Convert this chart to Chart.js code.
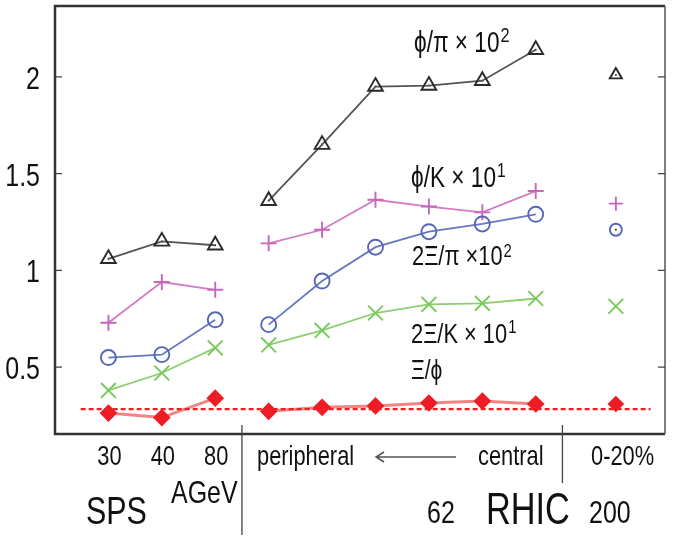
<!DOCTYPE html>
<html>
<head>
<meta charset="utf-8">
<script src="https://cdn.jsdelivr.net/npm/chart.js@4.4.0/dist/chart.umd.min.js"></script>
<style>
  html, body { margin: 0; padding: 0; background: #fff; }
  #wrap { width: 675px; height: 540px; }
</style>
</head>
<body>
<div id="wrap"><canvas id="ratios"></canvas></div>
<script>
// x slots: SPS 30/40/80 AGeV, RHIC 62 (peripheral -> central), RHIC 200 0-20%
const categories = ['30', '40', '80', '62 p1', '62 p2', '62 p3', '62 p4', '62 p5', '62 c', '200 0-20%'];
const xPos = [0, 1, 2, 3, 4, 5, 6, 7, 8, 9.5];

const phiPi  = [1.06, 1.15, 1.13, 1.36, 1.65, 1.95, 1.955, 1.98, 2.14, 2.01];
const phiK   = [0.73, 0.94, 0.90, 1.14, 1.21, 1.365, 1.33, 1.30, 1.41, 1.345];
const xiPi   = [0.55, 0.565, 0.745, 0.72, 0.945, 1.12, 1.20, 1.24, 1.29, 1.21];
const xiK    = [0.38, 0.47, 0.60, 0.615, 0.69, 0.78, 0.825, 0.83, 0.855, 0.815];
const xiPhi  = [0.263, 0.24, 0.34, 0.272, 0.293, 0.30, 0.315, 0.325, 0.31, 0.31];

const refLineX = [-0.52, 10.15];
const refLineY = [0.284, 0.284];

const yTicks = [0.5, 1, 1.5, 2];

// split into SPS / RHIC 62 / RHIC 200 pieces with gaps so they are not joined
function series(vals) {
  const pts = [];
  vals.forEach((v, i) => {
    pts.push({ x: xPos[i], y: v });
    if (i === 2) pts.push({ x: 2.5, y: null });
    if (i === 8) pts.push({ x: 8.75, y: null });
  });
  return pts;
}

const isLast = (c) => c.raw && c.raw.x === xPos[xPos.length - 1];

function lineSet(vals, color, lineColor, style, r, rLast, width, fill) {
  return {
    data: series(vals),
    borderColor: lineColor,
    borderWidth: width || 1.8,
    pointStyle: style,
    pointRadius: c => isLast(c) ? rLast : r,
    pointBorderColor: color,
    pointBackgroundColor: fill || 'rgba(0,0,0,0)',
    pointBorderWidth: 1.9,
    spanGaps: false,
    tension: 0
  };
}

const SX = 0.78;
const FONT = '"Liberation Sans", Arial, "DejaVu Sans", sans-serif';
function txt(ctx, s, x, y, size, align) {
  ctx.save();
  ctx.font = size + 'px ' + FONT;
  ctx.textBaseline = 'alphabetic';
  ctx.textAlign = align || 'left';
  ctx.translate(x, y);
  ctx.scale(SX, 1);
  ctx.fillText(s, 0, 0);
  const w = ctx.measureText(s).width * SX;
  ctx.restore();
  return w;
}
// label with a superscript right after it
function supLabel(ctx, s, sup, x, y, size, supSize, rise) {
  const w = txt(ctx, s, x, y, size);
  txt(ctx, sup, x + w + 1, y - rise, supSize);
}

const decor = {
  id: 'decor',
  afterDraw(chart) {
    const { ctx, chartArea: a, scales } = chart;
    const ys = scales.y, xs = scales.x;
    ctx.save();
    // frame
    ctx.strokeStyle = '#333';
    ctx.lineWidth = 2.5;
    ctx.beginPath();
    ctx.moveTo(a.right, a.top);
    ctx.lineTo(a.left, a.top);
    ctx.lineTo(a.left, a.bottom);
    ctx.lineTo(a.right, a.bottom);
    ctx.stroke();
    ctx.strokeStyle = '#555';
    ctx.lineWidth = 1.5;
    ctx.beginPath();
    ctx.moveTo(a.right, a.top);
    ctx.lineTo(a.right, a.bottom);
    ctx.stroke();
    // inward ticks and labels
    ctx.fillStyle = '#111';
    ctx.lineWidth = 1.2;
    ctx.strokeStyle = '#444';
    yTicks.forEach(v => {
      const py = ys.getPixelForValue(v);
      ctx.beginPath();
      ctx.moveTo(a.left, py); ctx.lineTo(a.left + 7, py);
      ctx.moveTo(a.right, py); ctx.lineTo(a.right - 7, py);
      ctx.stroke();
      txt(ctx, String(v), a.left - 15, py + 12, 32, 'right');
    });
    // separators
    ctx.strokeStyle = '#444';
    ctx.lineWidth = 1.3;
    const s1 = xs.getPixelForValue(2.5), s2 = xs.getPixelForValue(8.5);
    ctx.beginPath();
    ctx.moveTo(s1, a.bottom - 9); ctx.lineTo(s1, 535);
    ctx.moveTo(s2, a.bottom - 9); ctx.lineTo(s2, 483);
    ctx.stroke();
    // x labels
    ['30', '40', '80'].forEach((s, i) => txt(ctx, s, xs.getPixelForValue(xPos[i]) + 1, 465, 28, 'center'));
    txt(ctx, 'peripheral', 257, 465, 28);
    txt(ctx, 'central', 478, 465, 28);
    txt(ctx, '0-20%', 591, 465, 28);
    // arrow
    ctx.strokeStyle = '#555';
    ctx.lineWidth = 1.5;
    ctx.beginPath();
    ctx.moveTo(456, 457); ctx.lineTo(376, 457);
    ctx.moveTo(384, 452); ctx.lineTo(376, 457); ctx.lineTo(384, 462);
    ctx.stroke();
    txt(ctx, 'AGeV', 171, 503, 32);
    txt(ctx, 'SPS', 86, 524, 39);
    txt(ctx, '62', 427, 523, 32);
    txt(ctx, 'RHIC', 486, 524, 44);
    txt(ctx, '200', 589, 523, 32);
    // series labels
    supLabel(ctx, 'ϕ/π × 10', '2', 414, 52, 29, 21, 10);
    supLabel(ctx, 'ϕ/K × 10', '1', 411, 187, 29, 20, 10);
    supLabel(ctx, '2Ξ/π ×10', '2', 412, 265, 28, 19, 8);
    supLabel(ctx, '2Ξ/K × 10', '1', 411, 343, 28, 19, 10);
    txt(ctx, 'Ξ/ϕ', 411, 379, 27);
    ctx.restore();
  }
};

const dotsPi = series(phiPi);
const dotsCircle = [{ x: xPos[9], y: xiPi[9] }];

new Chart(document.getElementById('ratios'), {
  type: 'line',
  data: {
    datasets: [
      {
        data: refLineX.map((x, i) => ({ x, y: refLineY[i] })),
        borderColor: '#ee2020',
        borderWidth: 2.2,
        borderDash: [5, 3],
        pointRadius: 0
      },
      lineSet(xiPhi, '#ee1c24', 'rgba(240,110,110,0.85)', 'rectRot', 7.5, 7, 3, '#ee1c24'),
      lineSet(xiK, '#77c95a', '#8ccf70', 'crossRot', 10.5, 10.5),
      lineSet(xiPi, '#5566b8', '#6677c0', 'circle', 7.5, 6),
      lineSet(phiK, '#c966b8', '#d27cc4', 'cross', 8, 7),
      lineSet(phiPi, '#2a2a2a', '#555', 'triangle', 8.5, 7),
      {
        data: dotsPi.concat(dotsCircle),
        showLine: false,
        pointRadius: 1,
        pointBorderWidth: 0,
        pointBackgroundColor: '#333'
      }
    ]
  },
  options: {
    responsive: true,
    maintainAspectRatio: false,
    animation: false,
    layout: { autoPadding: false, padding: { top: 6, right: 10, left: 0, bottom: 0 } },
    plugins: {
      legend: { display: false },
      tooltip: { enabled: false }
    },
    elements: {
      point: { backgroundColor: 'rgba(0,0,0,0)' }
    },
    scales: {
      x: {
        type: 'linear',
        min: -1,
        max: 10.42,
        ticks: { display: false },
        grid: { display: false },
        border: { display: false },
        afterFit(s) { s.height = 106; }
      },
      y: {
        type: 'linear',
        min: 0.155,
        max: 2.366,
        afterBuildTicks(s) { s.ticks = yTicks.map(v => ({ value: v })); },
        ticks: { display: false },
        grid: { display: false },
        border: { display: false },
        afterFit(s) { s.width = 55; }
      }
    }
  },
  plugins: [decor]
});
</script>
</body>
</html>
